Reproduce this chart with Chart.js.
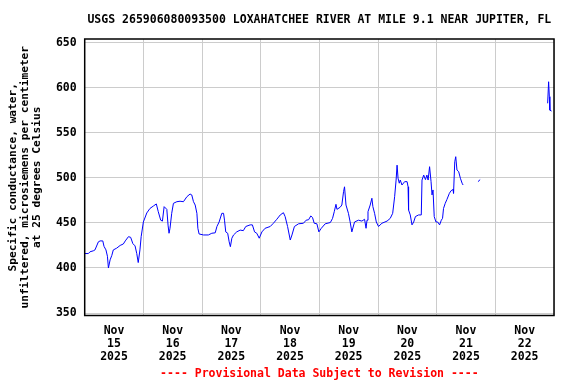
<!DOCTYPE html>
<html lang="en">
<head>
  <meta charset="UTF-8">
  <title>USGS 265906080093500</title>
  <script src="https://cdn.jsdelivr.net/npm/chart.js@4.4.1/dist/chart.umd.min.js"></script>
  <style>
    body { margin: 0; background: #fff; }
    canvas { display: block; }
  </style>
</head>
<body>
  <canvas id="chart" width="576" height="384"></canvas>
  <script>
    // hours since Nov 15 2025 00:00, null = gap in the record
    const HOURS = [
      0, 1.5, 2.2, 3.5, 4.2, 5.6, 6.3, 7.4, 7.9, 8.7, 9.3, 9.7, 10.4, 11.1, 11.7, 13.1, 14.5, 15.8, 16.6, 17.9,
      18.8, 19.7, 20.6, 21.3, 21.9, 22.6, 23.1, 24.0, 25.4, 26.7, 28.1, 29.3, 30.1, 31.1, 31.8, 32.5, 33.6, 34.1,
      34.5, 34.9, 35.6, 36.3, 37.7, 39.0, 40.4, 41.8, 43.1, 43.8, 44.5, 45.2, 45.9, 46.3, 46.8, 48.6, 50.6, 52.0,
      53.4, 54.1, 55.0, 56.1, 56.8, 57.2, 57.7, 58.5, 59.1, 59.6, 60.2, 60.9, 62.2, 63.6, 64.9, 65.9, 67.7, 68.6,
      69.5, 70.4, 71.4, 72.5, 73.8, 75.9, 77.2, 78.6, 80.0, 81.3, 82.0, 83.0, 84.1, 84.8, 85.8, 87.5, 89.5, 90.6,
      91.6, 92.5, 93.2, 93.9, 95.0, 95.8, 96.8, 98.4, 100.5, 101.4, 102.1, 102.8, 103.2, 104.5, 105.2, 105.9,
      106.3, 106.9, 107.9, 108.6, 109.3, 110.4, 112.0, 113.4, 114.5, 115.1, 115.5, 115.9, 116.8, 117.5, 117.9,
      118.6, 119.3, 120.2, 121.6, 123.7, 125.0, 126.0, 126.8, 127.4, 127.8, 128.2, 128.7, 129.1, 129.8, 130.9,
      131.9, 132.3, 132.5, 133.2, 133.9, 134.6, 135.3, 136.6, 137.7, 138.0, 138.7, 139.4, 140.0, 140.5, 141.1,
      141.7, 142.1, 142.5, 143.0, 143.7, 144.4, 145.2, 145.9, 146.4, 146.8, 147.5, 148.2, 149.2, 149.9, 150.7,
      150.9, 151.4, 151.8, 152.3, 153.0, 153.7, 154.4, 154.8, 157.5,
      160.9, 161.8, 175.0,
      189.4, 189.8, 190.1, 190.3, 191.0
    ];
    const COND = [
      416, 416, 418, 419, 420, 429, 430, 430, 424, 420, 413, 400, 409, 414, 420, 422, 425, 426.6, 430, 434.7,
      434, 427, 424.5, 416, 406, 420, 434.7, 451, 461, 466, 468.7, 471, 462.4, 453, 452, 468, 465, 447.5,
      438.5, 444, 460.6, 471.7, 473.5, 474, 473.5, 479, 482, 481, 473.5, 469.8, 460.6, 444, 437.7, 436.6, 436.6, 438.5,
      439, 446, 451, 460.6, 460.6, 453, 440, 438.5, 429, 423.6, 433, 436.6, 440, 442, 441.4, 446, 447.8, 447.8,
      440, 438.5, 433, 440, 444, 446, 449.6, 454, 458.8, 461.3, 457, 446, 431, 436.6, 446, 449, 449.6, 453,
      453.5, 457.7, 456, 449.6, 449, 440, 444, 449, 450.4, 455, 462.4, 470.6, 465, 467.3, 469.8, 484.6,
      490, 469.8, 460.6, 451, 440, 451, 453, 452, 454, 444, 453, 462.4, 469.8, 477.3, 468,
      460.6, 451, 446, 449.6, 452, 455, 460.6, 479, 497.5, 514, 499.5, 494, 497.5, 492, 495.7,
      495.7, 490, 464.3, 458.8, 447.8, 451, 457, 458.8, 458.8, 497.5, 503, 498, 503, 497.5, 512.3,
      495.7, 481, 486.5, 457, 451, 451, 447.8, 453, 455, 466, 471.7, 476, 482.8, 485.7, 487,
      482.8, 517.8, 523.4, 508.6, 506.8, 499.5, 494, 492, null,
      495.7, 498, null,
      582.6, 606.5, 590, 575, 574
    ];

    const TITLE = 'USGS 265906080093500 LOXAHATCHEE RIVER AT MILE 9.1 NEAR JUPITER, FL';
    const FOOTER = '---- Provisional Data Subject to Revision ----';
    const Y_TITLE = ['Specific conductance, water,', 'unfiltered, microsiemens per centimeter', 'at 25 degrees Celsius'];
    const Y_TICKS = [350, 400, 450, 500, 550, 600, 650];
    const MONTH = 'Nov';
    const YEAR = '2025';
    const DAYS = ['15', '16', '17', '18', '19', '20', '21', '22'];

    const FONT = 'DejaVu Sans Mono';
    const points = HOURS.map((h, i) => ({ x: h, y: COND[i] }));

    const frame = {
      id: 'frame',
      afterDraw(chart) {
        const { ctx, chartArea: a } = chart;
        ctx.save();
        ctx.strokeStyle = '#000';
        ctx.lineWidth = 1.5;
        ctx.strokeRect(a.left, a.top, a.right - a.left, a.bottom - a.top);
        const cx = (a.left + a.right) / 2;
        ctx.textAlign = 'center';
        ctx.textBaseline = 'middle';
        ctx.font = 'bold 11.5px "' + FONT + '"';
        ctx.fillStyle = '#000';
        ctx.fillText(TITLE, cx, 20.5);
        ctx.fillStyle = '#ff0000';
        ctx.fillText(FOOTER, cx, 374.5);
        ctx.restore();
      }
    };

    new Chart(document.getElementById('chart'), {
      type: 'line',
      data: {
        datasets: [{
          data: points,
          borderColor: '#0000ff',
          borderWidth: 1,
          pointRadius: 0,
          tension: 0,
          spanGaps: false
        }]
      },
      options: {
        responsive: false,
        animation: false,
        devicePixelRatio: 1,
        layout: { padding: { top: 39, right: 22, left: 0, bottom: 0 } },
        plugins: { legend: { display: false }, tooltip: { enabled: false } },
        scales: {
          x: {
            type: 'linear',
            min: 0,
            max: 192,
            afterFit(scale) { scale.height = 68.5; },
            afterBuildTicks(scale) {
              const t = [];
              for (let h = 0; h <= 192; h += 12) t.push({ value: h });
              scale.ticks = t;
            },
            grid: {
              color: c => (c.tick && c.tick.value % 24 === 0) ? '#cccccc' : 'rgba(0,0,0,0)',
              lineWidth: 1,
              drawTicks: false
            },
            border: { display: false },
            ticks: {
              autoSkip: false,
              maxRotation: 0,
              padding: 9,
              color: '#000',
              font: { family: FONT, size: 11.5, weight: 'bold', lineHeight: '13px' },
              callback: v => (v % 24 === 12) ? [MONTH, DAYS[(v - 12) / 24], YEAR] : ''
            }
          },
          y: {
            min: 347.3,
            max: 653.9,
            afterFit(scale) { scale.width = 84.7; },
            afterBuildTicks(scale) { scale.ticks = Y_TICKS.map(v => ({ value: v })); },
            grid: { color: '#cccccc', lineWidth: 1, drawTicks: false },
            border: { display: false },
            ticks: {
              padding: 8,
              color: '#000',
              font: { family: FONT, size: 11.5, weight: 'bold' }
            },
            title: {
              display: true,
              text: Y_TITLE,
              color: '#000',
              padding: { top: 7.5, bottom: 0 },
              font: { family: FONT, size: 11.2, weight: 'bold', lineHeight: '12px' }
            }
          }
        }
      },
      plugins: [frame]
    });
  </script>
</body>
</html>
